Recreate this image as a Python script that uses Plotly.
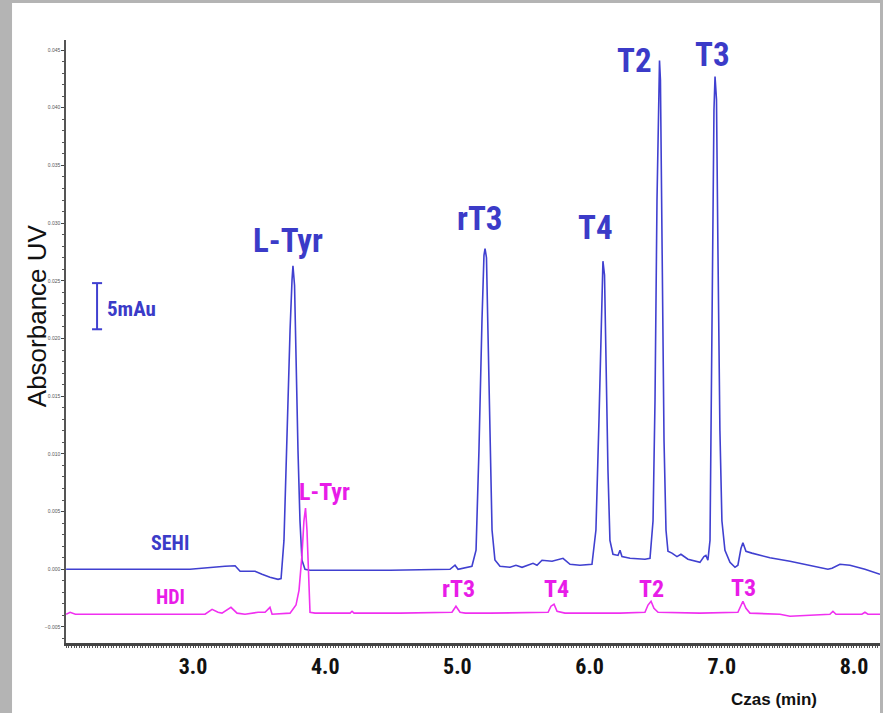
import plotly.graph_objects as go

# ---------------- data ----------------
sehi_time = [2.04, 2.675, 2.977, 3.242, 3.318, 3.356, 3.469, 3.522, 3.582, 3.643, 3.666,
             3.688, 3.711, 3.734, 3.749, 3.756, 3.768, 3.779, 3.794, 3.809, 3.824, 3.847, 3.885,
             4.036, 4.49, 4.944, 4.982, 5.005, 5.110, 5.141, 5.163, 5.186, 5.201, 5.209, 5.220,
             5.231, 5.247, 5.262, 5.284, 5.322, 5.398, 5.443, 5.489, 5.572, 5.602, 5.640, 5.716,
             5.799, 5.852, 5.927, 6.018, 6.048, 6.071, 6.086, 6.101, 6.113, 6.124, 6.139, 6.154,
             6.177, 6.215, 6.230, 6.245, 6.306, 6.419, 6.457, 6.480, 6.495, 6.510, 6.521, 6.529,
             6.536, 6.548, 6.563, 6.578, 6.593, 6.623, 6.661, 6.691, 6.744, 6.835, 6.865, 6.880,
             6.895, 6.911, 6.926, 6.941, 6.949, 6.960, 6.971, 6.986, 7.001, 7.024, 7.062, 7.100,
             7.122, 7.145, 7.160, 7.183, 7.228, 7.364, 7.516, 7.667, 7.803, 7.834, 7.894, 7.970,
             8.083, 8.197]
sehi_abs = [0.0, 0.0, 0.0, 0.00026, 0.0003, -0.00017, -0.00017, -0.00043, -0.0007, -0.00087, -0.0008,
            0.0025, 0.012, 0.0207, 0.0251, 0.0263, 0.0246, 0.0181, 0.0103, 0.0042, 0.0008, 0.0, -0.00009,
            -0.00009, -0.00009, 0.0, 0.00035, 0.0, 0.00026, 0.00165, 0.0103, 0.0216, 0.0272, 0.0278, 0.027,
            0.0207, 0.0103, 0.0034, 0.0008, 0.00026, 0.00017, 0.00035, 0.00017, 0.00052, 0.00035, 0.00078, 0.00069,
            0.00095, 0.00043, 0.00035, 0.00043, 0.0034, 0.0129, 0.0207, 0.0267, 0.0255, 0.0181, 0.0086, 0.0025,
            0.0013, 0.0012, 0.00165, 0.0011, 0.00095, 0.00087, 0.00095, 0.0042, 0.0147, 0.032, 0.0415, 0.0441,
            0.0424, 0.0277, 0.0112, 0.0034, 0.00156, 0.0014, 0.0011, 0.0013, 0.00087, 0.0006, 0.0011, 0.0012,
            0.00078, 0.0025, 0.0233, 0.0398, 0.0427, 0.0407, 0.0277, 0.012, 0.0042, 0.00165, 0.0006, 0.00017,
            0.00035, 0.0018, 0.0023, 0.00156, 0.0014, 0.001, 0.0007, 0.00035, 0.0, 0.00009, 0.00043, 0.00035,
            0.0, -0.00043]

hdi_time = [2.04, 2.07, 2.11, 2.41, 3.091, 3.144, 3.189, 3.219, 3.287, 3.333, 3.393, 3.492, 3.545,
            3.582, 3.598, 3.734, 3.779, 3.802, 3.824, 3.839, 3.851, 3.862, 3.873, 3.885, 3.923,
            4.188, 4.203, 4.218, 4.566, 4.793, 4.959, 4.989, 5.02, 5.06, 5.247, 5.686, 5.708, 5.731,
            5.754, 5.814, 6.23, 6.419, 6.442, 6.465, 6.487, 6.518, 6.835, 7.122, 7.145, 7.160, 7.183,
            7.213, 7.440, 7.516, 7.818, 7.841, 7.864, 8.06, 8.083, 8.106, 8.197]
hdi_abs = [-0.0039, -0.00373, -0.0039, -0.0039, -0.0039, -0.00347, -0.00373, -0.0038, -0.0033, -0.0038,
           -0.0039, -0.00373, -0.00373, -0.0033, -0.0039, -0.0038, -0.0031, -0.0018, 0.0012, 0.0042, 0.0053,
           0.0034, -0.00095, -0.00373, -0.0038, -0.0038, -0.00364, -0.0038, -0.0038, -0.00373, -0.00373,
           -0.0032, -0.00373, -0.0038, -0.0038, -0.00373, -0.0032, -0.00303, -0.00364, -0.0038, -0.0038,
           -0.00373, -0.0031, -0.00277, -0.00338, -0.00373, -0.0038, -0.00373, -0.0031, -0.00277, -0.00338,
           -0.0038, -0.0039, -0.00407, -0.0039, -0.00364, -0.0039, -0.0039, -0.00373, -0.0039, -0.0039]

sehi_labels = ["L-Tyr", "rT3", "T4", "T2", "T3"]
sehi_label_t = [3.719, 5.171, 6.048, 6.336, 6.933]
sehi_label_v = [0.0285, 0.0304, 0.0296, 0.0441, 0.0446]

hdi_labels = ["L-Tyr", "rT3", "T4", "T2", "T3"]
hdi_label_t = [3.998, 5.005, 5.753, 6.465, 7.168]
hdi_label_v = [0.0067, -0.00173, -0.00173, -0.00173, -0.00165]

x_ticks = [3, 4, 5, 6, 7, 8]
y_ticks = [-0.005, 0.0, 0.005, 0.010, 0.015, 0.020, 0.025, 0.030, 0.035, 0.040, 0.045]

BLUE = "#4040d0"
BLUE_TXT = "#3b3bc8"
PINK = "#f030f0"
PINK_TXT = "#e81ce8"
COND = "Roboto Condensed, DejaVu Sans Condensed, sans-serif"

fig = go.Figure()
fig.add_trace(go.Scatter(x=sehi_time, y=sehi_abs, mode="lines",
                         line=dict(color=BLUE, width=1.6), name="SEHI", hoverinfo="skip"))
fig.add_trace(go.Scatter(x=hdi_time, y=hdi_abs, mode="lines",
                         line=dict(color=PINK, width=1.6), name="HDI", hoverinfo="skip"))

ann = []
for lab, t, v in zip(sehi_labels, sehi_label_t, sehi_label_v):
    ann.append(dict(x=t, y=v, xref="x", yref="y", text=lab, showarrow=False,
                    font=dict(family=COND, size=33, color=BLUE_TXT, weight="bold")))
for lab, t, v in zip(hdi_labels, hdi_label_t, hdi_label_v):
    ann.append(dict(x=t, y=v, xref="x", yref="y", text=lab, showarrow=False,
                    font=dict(family=COND, size=24, color=PINK_TXT, weight="bold")))

ann.append(dict(x=2.826, y=0.00225, xref="x", yref="y", text="SEHI", showarrow=False,
                font=dict(family=COND, size=20, color=BLUE_TXT, weight="bold")))
ann.append(dict(x=2.826, y=-0.00243, xref="x", yref="y", text="HDI", showarrow=False,
                font=dict(family=COND, size=20, color=PINK_TXT, weight="bold")))
ann.append(dict(x=2.334, y=0.0226, xref="x", yref="y", text="5mAu", showarrow=False,
                xanchor="left", font=dict(family=COND, size=21, color=BLUE_TXT, weight="bold")))
ann.append(dict(x=-0.0356, y=0.542, xref="paper", yref="paper", text="Absorbance UV",
                textangle=-90, showarrow=False, xanchor="center", yanchor="middle",
                font=dict(family="Liberation Sans, Arial, sans-serif", size=26, color="#111")))
ann.append(dict(x=0.870, y=-0.0945, xref="paper", yref="paper", text="Czas (min)",
                showarrow=False, xanchor="center", yanchor="middle",
                font=dict(family="Liberation Sans, Arial, sans-serif", size=17, color="#111",
                          weight="bold")))

shapes = [
    dict(type="rect", xref="paper", yref="paper", x0=-0.0663, x1=1.0, y0=-0.12, y1=1.0614,
         fillcolor="white", line=dict(width=0), layer="below"),
    dict(type="line", xref="x", yref="y", x0=2.274, x1=2.274, y0=0.0208, y1=0.0248,
         line=dict(color=BLUE, width=2)),
    dict(type="line", xref="x", yref="y", x0=2.236, x1=2.312, y0=0.0248, y1=0.0248,
         line=dict(color=BLUE, width=2)),
    dict(type="line", xref="x", yref="y", x0=2.236, x1=2.312, y0=0.0208, y1=0.0208,
         line=dict(color=BLUE, width=2)),
]

fig.update_layout(
    width=883, height=713, autosize=False,
    margin=dict(l=66, r=3, t=40, b=70),
    paper_bgcolor="#b4b4b4", plot_bgcolor="white",
    showlegend=False,
    annotations=ann, shapes=shapes,
)
fig.update_xaxes(range=[2.039, 8.197], tickvals=x_ticks, tickformat=".1f",
                 showgrid=False, zeroline=False, showline=True, linecolor="#444", linewidth=2.5,
                 ticks="outside", ticklen=2, tickcolor="#444", tickwidth=1,
                 minor=dict(dtick=0.02, ticks="outside", ticklen=2.5, tickcolor="#555", tickwidth=1),
                 tickfont=dict(family=COND, size=22, color="#111", weight="bold"))
fig.update_yaxes(range=[-0.00639, 0.04587], tickvals=y_ticks, tickformat=".3f",
                 showgrid=False, zeroline=False, showline=True, linecolor="#555", linewidth=1.5,
                 ticks="outside", ticklen=3, tickcolor="#444", tickwidth=1,
                 minor=dict(dtick=0.001, ticks="outside", ticklen=2, tickcolor="#555", tickwidth=1),
                 tickfont=dict(family="Liberation Sans, Arial, sans-serif", size=5, color="#555"))

fig.write_html("out.html", config={"displayModeBar": False},
               post_script="document.body.style.margin='0';")
